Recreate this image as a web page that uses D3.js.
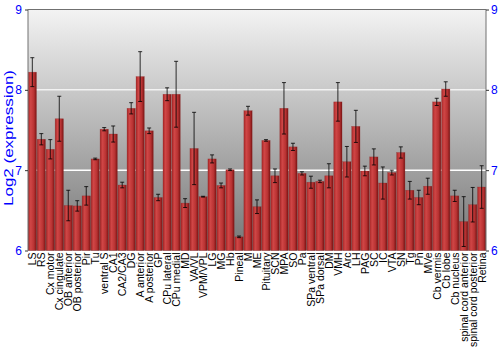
<!DOCTYPE html>
<html>
<head>
<meta charset="utf-8">
<script src="https://cdn.jsdelivr.net/npm/d3@7"></script>
<style>
  body { margin: 0; background: #fff; }
  text { font-family: "Liberation Sans", Arial, sans-serif; }
</style>
</head>
<body>
<div id="chart"></div>
<script>
// Tissue names along the x axis
var tissues = ["LS", "RS", "Cx motor", "Cx cingulate", "OB anterior", "OB posterior", "Pir", "Tu",
  "ventral S", "CA1", "CA2/CA3", "DG", "A anterior", "A posterior", "GP", "CPu lateral", "CPu medial",
  "MD", "VA/VL", "VPM/VPL", "LG", "MG", "Hb", "Pineal", "M", "ME", "Pituitary", "SCN", "MPA", "SO",
  "Pa", "SPa ventral", "SPa dorsal", "DM", "VMH", "Arc", "LH", "PAG", "SC", "IC", "VTA", "SN", "Tg",
  "Pn", "MVe", "Cb vermis", "Cb lobe", "Cb nucleus", "spinal cord anterior", "spinal cord posterior", "Retina"];

// Mean log2 expression per tissue
var expression = [8.22, 7.385, 7.26, 7.64, 6.56, 6.555, 6.68, 7.14, 7.51, 7.45, 6.815, 7.77, 8.165,
  7.49, 6.66, 7.945, 7.945, 6.59, 7.27, 6.67, 7.14, 6.81, 7.005, 6.17, 7.74, 6.545, 7.37, 6.93,
  7.77, 7.29, 6.96, 6.85, 6.86, 6.93, 7.85, 7.105, 7.545, 6.99, 7.165, 6.84, 6.97, 7.22, 6.75,
  6.66, 6.80, 7.85, 8.01, 6.68, 6.36, 6.57, 6.79];

// Error (± around the mean)
var errors = [0.18, 0.07, 0.12, 0.28, 0.19, 0.065, 0.115, 0.01, 0.02, 0.10, 0.035, 0.07, 0.31,
  0.035, 0.04, 0.08, 0.41, 0.055, 0.45, 0.005, 0.05, 0.03, 0.01, 0.01, 0.055, 0.085, 0.01, 0.085,
  0.32, 0.045, 0.02, 0.075, 0.015, 0.15, 0.24, 0.19, 0.2, 0.06, 0.1, 0.2, 0.03, 0.07, 0.11,
  0.09, 0.1, 0.045, 0.09, 0.07, 0.31, 0.215, 0.265];

var yTicks = [6, 7, 8, 9];
var gridValues = [7, 8];

var W = 500, H = 350;
var margin = {top: 9.5, right: 14, bottom: 99.5, left: 28};
var plotW = W - margin.left - margin.right,
    plotH = H - margin.top - margin.bottom;

var svg = d3.select("#chart").append("svg")
    .attr("width", W)
    .attr("height", H);

var defs = svg.append("defs");

// Gray background gradient, light at top
var bg = defs.append("linearGradient").attr("id", "bg")
    .attr("x1", 0).attr("y1", 0).attr("x2", 0).attr("y2", 1);
bg.append("stop").attr("offset", "0%").attr("stop-color", "#f3f3f3");
bg.append("stop").attr("offset", "100%").attr("stop-color", "#767676");

// Bar gradient, shaded like a cylinder
var bar = defs.append("linearGradient").attr("id", "bar")
    .attr("x1", 0).attr("y1", 0).attr("x2", 1).attr("y2", 0);
bar.append("stop").attr("offset", "0%").attr("stop-color", "#a82828");
bar.append("stop").attr("offset", "30%").attr("stop-color", "#d04646");
bar.append("stop").attr("offset", "70%").attr("stop-color", "#b83232");
bar.append("stop").attr("offset", "100%").attr("stop-color", "#7a1414");

var g = svg.append("g")
    .attr("transform", "translate(" + margin.left + "," + margin.top + ")");

var x = d3.scaleBand()
    .domain(tissues)
    .range([0, plotW])
    .paddingInner(0.08)
    .paddingOuter(0.02);

var y = d3.scaleLinear()
    .domain([6, 9])
    .range([plotH, 0]);

g.append("rect")
    .attr("width", plotW)
    .attr("height", plotH)
    .attr("fill", "url(#bg)");

// Grid lines
g.selectAll(".grid")
    .data(gridValues)
    .enter().append("line")
    .attr("class", "grid")
    .attr("x1", 0).attr("x2", plotW)
    .attr("y1", y).attr("y2", y)
    .attr("stroke", "#fff")
    .attr("stroke-opacity", function(d) { return d == 8 ? 0.75 : 1; })
    .attr("stroke-width", 1.5);

var data = tissues.map(function(t, i) { return {name: t, v: expression[i], e: errors[i]}; });

// Bars
g.selectAll(".bar")
    .data(data)
    .enter().append("rect")
    .attr("class", "bar")
    .attr("x", function(d) { return x(d.name); })
    .attr("width", x.bandwidth())
    .attr("y", function(d) { return y(d.v); })
    .attr("height", function(d) { return plotH - y(d.v); })
    .attr("fill", "url(#bar)")
    .attr("stroke", "#8a2020")
    .attr("stroke-opacity", 0.5)
    .attr("stroke-width", 0.5);

// Error bars
var eb = g.selectAll(".err")
    .data(data)
    .enter().append("g")
    .attr("class", "err")
    .attr("transform", function(d) { return "translate(" + (x(d.name) + x.bandwidth() / 2) + ",0)"; })
    .attr("stroke", "#000")
    .attr("stroke-opacity", 0.8)
    .attr("stroke-width", 1);

eb.append("line")
    .attr("y1", function(d) { return y(d.v + d.e); })
    .attr("y2", function(d) { return y(d.v - d.e); });
eb.append("line")
    .attr("x1", -2).attr("x2", 2)
    .attr("y1", function(d) { return y(d.v + d.e); })
    .attr("y2", function(d) { return y(d.v + d.e); });
eb.append("line")
    .attr("x1", -2).attr("x2", 2)
    .attr("y1", function(d) { return y(d.v - d.e); })
    .attr("y2", function(d) { return y(d.v - d.e); });

// Frame: top, left, right
g.append("path")
    .attr("d", "M0," + plotH + "V0H" + plotW + "V" + plotH)
    .attr("fill", "none")
    .attr("stroke", "#707070")
    .attr("stroke-width", 1);

// Left axis
var yLeft = g.append("g")
    .call(d3.axisLeft(y).tickValues(yTicks).tickFormat(d3.format("d")).tickSize(3).tickPadding(3));
yLeft.select(".domain").remove();
yLeft.selectAll(".tick line").attr("stroke", "#333");
yLeft.selectAll("text").attr("fill", "#0000ff").style("font-size", "12px");

// Right axis
var yRight = g.append("g")
    .attr("transform", "translate(" + plotW + ",0)")
    .call(d3.axisRight(y).tickValues(yTicks).tickFormat(d3.format("d")).tickSize(3).tickPadding(2));
yRight.select(".domain").remove();
yRight.selectAll(".tick line").attr("stroke", "#333");
yRight.selectAll("text").attr("fill", "#0000ff").style("font-size", "12px");

// X labels, rotated
g.selectAll(".xlab")
    .data(tissues)
    .enter().append("text")
    .attr("class", "xlab")
    .attr("transform", function(d) {
      return "translate(" + (x(d) + x.bandwidth() / 2 + 4) + "," + (plotH + 2) + ") rotate(-90)";
    })
    .attr("text-anchor", "end")
    .style("font-size", "10.5px")
    .attr("fill", "#000")
    .text(function(d) { return d; });

// Y title, a little stretched along its length like the original
svg.append("text")
    .attr("transform", "translate(12.5,138) rotate(-90)")
    .attr("text-anchor", "middle")
    .attr("fill", "#0000ff")
    .style("font-size", "13.5px")
    .attr("textLength", 136)
    .attr("lengthAdjust", "spacingAndGlyphs")
    .text("Log2 (expression)");
</script>
</body>
</html>
